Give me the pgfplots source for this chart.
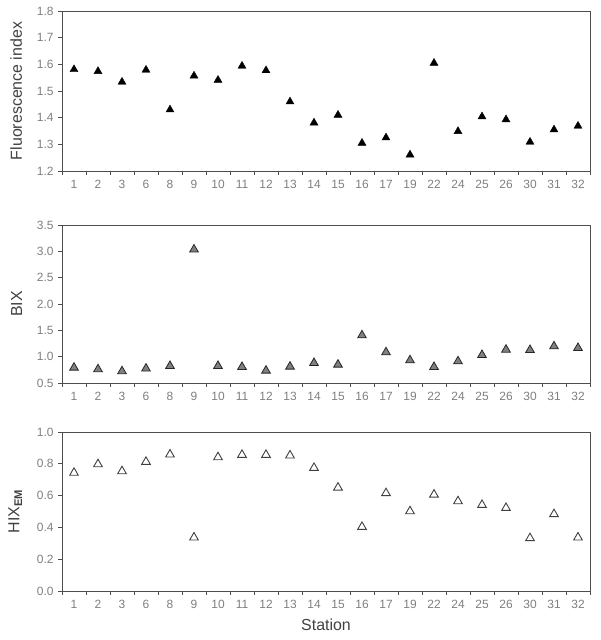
\documentclass[border=0pt]{standalone}
\usepackage{fontspec}
\setmainfont{Liberation Sans}
\usepackage{pgfplots}
\pgfplotsset{compat=1.18}
\definecolor{tickgray}{HTML}{7F7F7F}
\definecolor{labgray}{HTML}{404040}
\definecolor{axgray}{HTML}{4D4D4D}
\definecolor{bixfill}{HTML}{808080}

\pgfplotsset{
  panel/.style={
    scale only axis, width=528bp,
    xmin=0.5, xmax=22.5,
    xtick={0.5,1.5,...,22.5},
    x tick label as interval,
    xticklabels={1,2,3,6,8,9,10,11,12,13,14,15,16,17,19,22,24,25,26,30,31,32},
    xtick pos=bottom, ytick pos=left,
    tick align=outside, major tick length=4bp,
    axis line style={axgray, line width=0.8pt},
    tick style={axgray, line width=0.8pt},
    tick label style={font=\fontsize{12}{13}\selectfont, text=tickgray},
    xticklabel style={yshift=-1.5bp},
    yticklabel style={xshift=-1bp},
    label style={font=\fontsize{16}{18}\selectfont, text=labgray},
    /pgf/number format/assume math mode=true,
    yticklabel style={/pgf/number format/.cd, fixed, fixed zerofill, precision=1},
    ylabel style={yshift=8bp},
  }
}

\begin{document}
\begin{tikzpicture}
\useasboundingbox (0,0) rectangle (601bp,-640bp);

% Panel 1: Fluorescence index
\begin{axis}[panel, at={(62bp,-11bp)}, anchor=north west, height=160bp,
  ymin=1.2, ymax=1.8, ytick={1.2,1.3,1.4,1.5,1.6,1.7,1.8},
  ylabel={Fluorescence index}]
\addplot[only marks, mark=triangle*, mark size=4.6bp, mark options={fill=black, draw=black, yshift=-1.1bp}]
coordinates {
(1,1.585) (2,1.578) (3,1.538) (4,1.583) (5,1.434) (6,1.561) (7,1.545) (8,1.598)
(9,1.581) (10,1.464) (11,1.385) (12,1.414) (13,1.309) (14,1.329) (15,1.265)
(16,1.609) (17,1.353) (18,1.408) (19,1.397) (20,1.313) (21,1.359) (22,1.373)
};
\end{axis}

% Panel 2: BIX
\begin{axis}[panel, at={(62bp,-225bp)}, anchor=north west, height=158bp,
  ymin=0.5, ymax=3.5, ytick={0.5,1.0,1.5,2.0,2.5,3.0,3.5},
  ylabel={BIX}]
\addplot[only marks, mark=triangle*, mark size=5bp, mark options={fill=bixfill, draw=black!85, line width=0.8pt, yshift=-1.2bp}]
coordinates {
(1,0.815) (2,0.784) (3,0.746) (4,0.797) (5,0.847) (6,3.058) (7,0.847) (8,0.828)
(9,0.758) (10,0.834) (11,0.904) (12,0.872) (13,1.428) (14,1.106) (15,0.954)
(16,0.828) (17,0.935) (18,1.055) (19,1.156) (20,1.150) (21,1.219) (22,1.188)
};
\end{axis}

% Panel 3: HIX_EM
\begin{axis}[panel, at={(62bp,-432bp)}, anchor=north west, height=159bp,
  ymin=0, ymax=1, ytick={0,0.2,0.4,0.6,0.8,1.0},
  ylabel={HIX\textsubscript{\textbf{EM}}}, xlabel={Station},
  xlabel style={yshift=-4bp}]
\addplot[only marks, mark=triangle*, mark size=5bp, mark options={fill=white, draw=labgray, line width=0.9pt, yshift=-1.2bp}]
coordinates {
(1,0.751) (2,0.805) (3,0.761) (4,0.820) (5,0.866) (6,0.344) (7,0.849) (8,0.864)
(9,0.864) (10,0.860) (11,0.782) (12,0.658) (13,0.411) (14,0.623) (15,0.509)
(16,0.614) (17,0.572) (18,0.549) (19,0.530) (20,0.340) (21,0.491) (22,0.344)
};
\end{axis}
\end{tikzpicture}
\end{document}
